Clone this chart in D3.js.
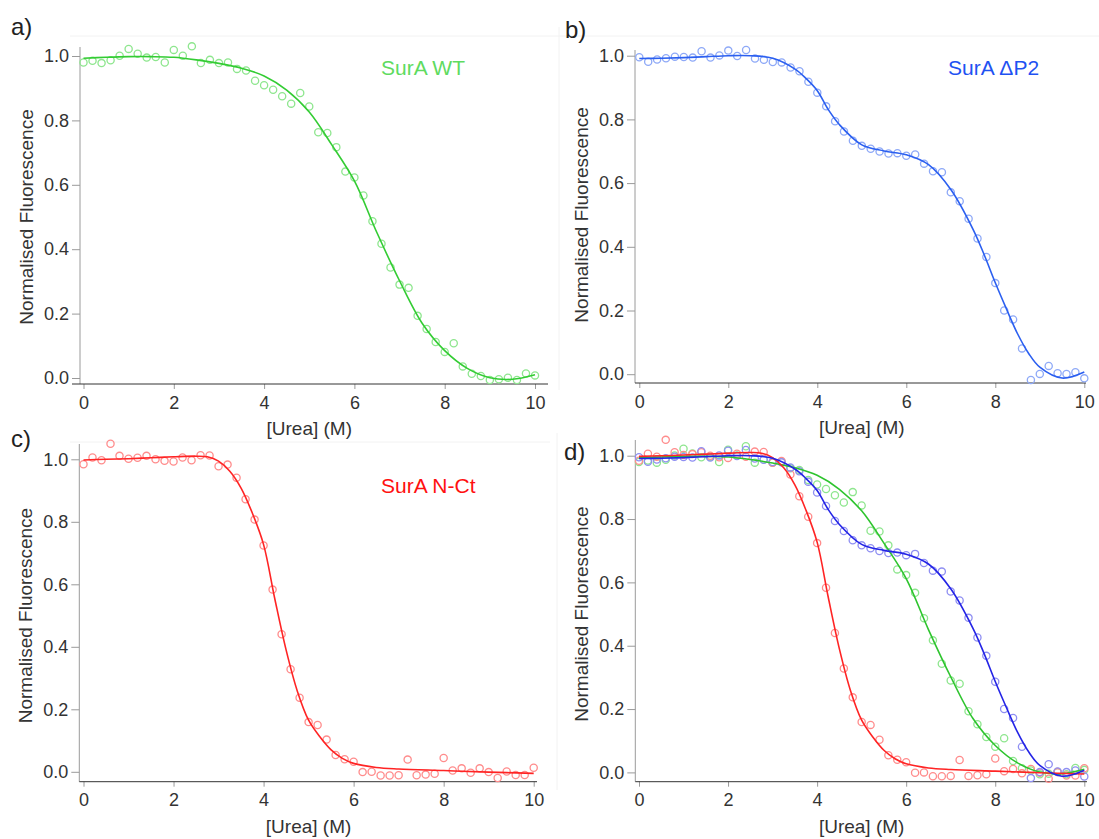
<!DOCTYPE html>
<meta charset="utf-8">
<head>
<style>
body {
  margin: 0;
  background-color: #ffffff;
}
svg text {
  font-family: "Liberation Sans", Arial, sans-serif;
}
</style>
</head>
<body>
<div id="my_dataviz"></div>

<script src="https://d3js.org/d3.v7.min.js"></script>
<script>

// urea concentration of each measured point (M)
var urea = [0, 0.2, 0.4, 0.6, 0.8, 1, 1.2, 1.4, 1.6, 1.8,
            2, 2.2, 2.4, 2.6, 2.8, 3, 3.2, 3.4, 3.6, 3.8,
            4, 4.2, 4.4, 4.6, 4.8, 5, 5.2, 5.4, 5.6, 5.8,
            6, 6.2, 6.4, 6.6, 6.8, 7, 7.2, 7.4, 7.6, 7.8,
            8, 8.2, 8.4, 8.6, 8.8, 9, 9.2, 9.4, 9.6, 9.8, 10];

// measured normalised fluorescence
var wtObs = [0.980, 0.985, 0.978, 0.987, 1.001, 1.022, 1.007, 0.995, 0.997, 0.980,
             1.019, 1.001, 1.030, 0.978, 0.988, 0.978, 0.980, 0.960, 0.955, 0.923,
             0.909, 0.895, 0.875, 0.852, 0.885, 0.843, 0.763, 0.761, 0.717, 0.641,
             0.623, 0.567, 0.487, 0.417, 0.343, 0.290, 0.280, 0.193, 0.152, 0.112,
             0.081, 0.108, 0.036, 0.013, 0.006, -0.006, -0.004, 0.001, -0.006, 0.014, 0.008];

var dp2Obs = [0.995, 0.981, 0.988, 0.992, 0.997, 0.996, 0.994, 1.014, 0.994, 1.001,
              1.016, 0.999, 1.018, 0.991, 0.987, 0.980, 0.979, 0.963, 0.951, 0.918,
              0.884, 0.841, 0.794, 0.762, 0.733, 0.717, 0.708, 0.699, 0.693, 0.694,
              0.686, 0.690, 0.661, 0.637, 0.634, 0.571, 0.543, 0.488, 0.426, 0.368,
              0.286, 0.200, 0.172, 0.081, -0.018, 0.001, 0.026, 0.003, 0.001, 0.006, -0.013];

var nctObs = [0.984, 1.006, 0.997, 1.050, 1.011, 1.002, 1.005, 1.011, 1.000, 0.995,
              0.993, 1.006, 0.997, 1.013, 1.012, 0.978, 0.983, 0.941, 0.872, 0.807,
              0.724, 0.583, 0.440, 0.328, 0.237, 0.159, 0.150, 0.103, 0.054, 0.040,
              0.032, -0.001, 0.000, -0.012, -0.012, -0.011, 0.039, -0.011, -0.009, -0.006,
              0.044, 0.004, 0.011, -0.003, 0.011, -0.001, -0.020, 0.001, -0.010, -0.010, 0.013];

// fitted curves
var wtFitX = [0, 0.5, 1, 1.5, 2, 2.5, 3, 3.5, 4, 4.5, 5, 5.5, 6, 6.5, 7, 7.5, 8, 8.5, 9, 9.5, 10];
var wtFit  = [0.993, 0.996, 0.998, 0.998, 0.996, 0.988, 0.977, 0.962, 0.938, 0.894, 0.826,
              0.724, 0.612, 0.451, 0.302, 0.170, 0.085, 0.030, 0.001, -0.004, 0.010];

var dp2FitX = [0, 0.5, 1, 1.5, 2, 2.5, 3, 3.5, 3.75, 4, 4.25, 4.5, 5, 5.5, 6, 6.5, 7,
               7.5, 7.75, 8, 8.25, 8.5, 8.75, 9, 9.5, 10];
var dp2Fit  = [0.991, 0.992, 0.994, 0.997, 1.000, 1.000, 0.992, 0.958, 0.928, 0.890, 0.830,
               0.783, 0.720, 0.701, 0.689, 0.658, 0.580, 0.455, 0.375, 0.287, 0.205, 0.127,
               0.065, 0.022, -0.012, 0.007];

var nctFitX = [0, 0.5, 1, 1.5, 2, 2.5, 2.75, 3, 3.25, 3.5, 3.75, 4, 4.25, 4.5, 4.75, 5,
               5.25, 5.5, 5.75, 6, 6.5, 7, 8, 9, 10];
var nctFit  = [0.998, 1.000, 1.002, 1.005, 1.008, 1.010, 1.008, 0.994, 0.962, 0.908, 0.828,
               0.727, 0.553, 0.390, 0.258, 0.165, 0.112, 0.070, 0.043, 0.027, 0.014, 0.009,
               0.004, -0.001, -0.005];

var xTicks = [0, 2, 4, 6, 8, 10];
var yTicks = [0, 0.2, 0.4, 0.6, 0.8, 1.0];

var series = {
  wt:  { obs: wtObs,  fitX: wtFitX,  fit: wtFit },
  dp2: { obs: dp2Obs, fitX: dp2FitX, fit: dp2Fit },
  nct: { obs: nctObs, fitX: nctFitX, fit: nctFit }
};

// panel layout (pixels)
var panels = [
  { tag: "a)", tagX: 11, tagY: 35, ax: 80, x0: 83.5, x1: 535, y0: 378, y1: 56, axY: 384, top: 47,
    xl: 72, xr: 548, legend: "SurA WT", legX: 381, legY: 75, legCol: "#5fdb5f",
    lines: [{ s: "wt", line: "#33cc33", dot: "#8ee68e" }] },
  { tag: "b)", tagX: 565, tagY: 38, ax: 635, x0: 639.3, x1: 1084.3, y0: 374.2, y1: 55.7, axY: 383, top: 50,
    xl: 635, xr: 1086, legend: "SurA \u0394P2", legX: 948, legY: 75, legCol: "#1f52f2",
    lines: [{ s: "dp2", line: "#2b5ff0", dot: "#8ea9f7" }] },
  { tag: "c)", tagX: 11, tagY: 447, ax: 79.3, x0: 83.5, x1: 533.7, y0: 771.8, y1: 459.3, axY: 781.7, top: 444,
    xl: 79.3, xr: 537, legend: "SurA N-Ct", legX: 381, legY: 493, legCol: "#ff1010",
    lines: [{ s: "nct", line: "#ff2424", dot: "#ff8c8c" }] },
  { tag: "d)", tagX: 564, tagY: 460, ax: 635.3, x0: 639, x1: 1084.3, y0: 772.4, y1: 455.7, axY: 781.7, top: 440,
    xl: 635.3, xr: 1087, legend: null,
    lines: [{ s: "wt", line: "#2ec42e", dot: "#8ee68e" },
            { s: "nct", line: "#ff2424", dot: "#ff8c8c" },
            { s: "dp2", line: "#2424e6", dot: "#8f8ff2" }] }
];

var svg = d3.select("#my_dataviz")
  .append("svg")
    .attr("width", 1099)
    .attr("height", 839);

// faint frame lines left over from the figure panels
svg.append("line").attr("x1", 70).attr("x2", 1099).attr("y1", 36).attr("y2", 36).attr("stroke", "#f2f2f2");
svg.append("line").attr("x1", 70).attr("x2", 550).attr("y1", 442).attr("y2", 442).attr("stroke", "#f2f2f2");
svg.append("line").attr("x1", 559).attr("x2", 559).attr("y1", 27).attr("y2", 390).attr("stroke", "#f2f2f2");
svg.append("line").attr("x1", 557).attr("x2", 557).attr("y1", 433).attr("y2", 790).attr("stroke", "#f2f2f2");

panels.forEach(function(p) {
  var g = svg.append("g");

  var x = d3.scaleLinear().domain([0, 10]).range([p.x0, p.x1]);
  var y = d3.scaleLinear().domain([0, 1]).range([p.y0, p.y1]);

  // Y axis
  var yAxis = g.append("g")
    .attr("transform", "translate(" + p.ax + ",0)")
    .call(d3.axisLeft(y).tickValues(yTicks).tickFormat(d3.format(".1f")).tickSize(8).tickPadding(3));
  yAxis.select(".domain").remove();
  yAxis.selectAll(".tick line").attr("stroke", "#9a9a9a");
  yAxis.selectAll("text")
    .attr("fill", "#333")
    .attr("font-family", "Liberation Sans, Arial, sans-serif")
    .style("font-size", "18px");
  g.append("line")
    .attr("x1", p.ax).attr("x2", p.ax)
    .attr("y1", p.top).attr("y2", p.axY)
    .attr("stroke", "#9a9a9a");

  // X axis
  var xAxis = g.append("g")
    .attr("transform", "translate(0," + p.axY + ")")
    .call(d3.axisBottom(x).tickValues(xTicks).tickSize(5).tickPadding(7));
  xAxis.select(".domain").remove();
  xAxis.selectAll(".tick line").attr("stroke", "#9a9a9a");
  xAxis.selectAll("text")
    .attr("fill", "#333")
    .attr("font-family", "Liberation Sans, Arial, sans-serif")
    .style("font-size", "18px");
  g.append("line")
    .attr("x1", p.xl).attr("x2", p.xr)
    .attr("y1", p.axY).attr("y2", p.axY)
    .attr("stroke", "#333");

  // axis titles
  g.append("text")
    .attr("x", (p.x0 + p.x1) / 2)
    .attr("y", p.axY + 51)
    .attr("text-anchor", "middle")
    .attr("fill", "#333")
    .style("font-size", "19px")
    .text("[Urea] (M)");

  g.append("text")
    .attr("transform", "translate(" + (p.ax - 47) + "," + ((p.y0 + p.y1) / 2) + ") rotate(-90)")
    .attr("text-anchor", "middle")
    .attr("fill", "#333")
    .style("font-size", "19px")
    .text("Normalised Fluorescence");

  // panel tag
  g.append("text")
    .attr("x", p.tagX)
    .attr("y", p.tagY)
    .attr("fill", "#222")
    .style("font-size", "24px")
    .text(p.tag);

  if (p.legend) {
    g.append("text")
      .attr("x", p.legX)
      .attr("y", p.legY)
      .attr("fill", p.legCol)
      .style("font-size", "21px")
      .text(p.legend);
  }

  // measured points
  p.lines.forEach(function(l) {
    var s = series[l.s];
    g.append("g")
      .selectAll("circle")
      .data(s.obs)
      .enter()
      .append("circle")
        .attr("cx", function(d, i) { return x(urea[i]); })
        .attr("cy", function(d) { return y(d); })
        .attr("r", 3.6)
        .attr("fill", "none")
        .attr("stroke", l.dot)
        .attr("stroke-width", 1.3);
  });

  // fitted curves
  p.lines.forEach(function(l) {
    var s = series[l.s];
    var line = d3.line()
      .x(function(d, i) { return x(s.fitX[i]); })
      .y(function(d) { return y(d); })
      .curve(d3.curveCatmullRom);
    g.append("path")
      .datum(s.fit)
      .attr("d", line)
      .attr("fill", "none")
      .attr("stroke", l.line)
      .attr("stroke-width", 1.6);
  });
});

</script>
</body>
